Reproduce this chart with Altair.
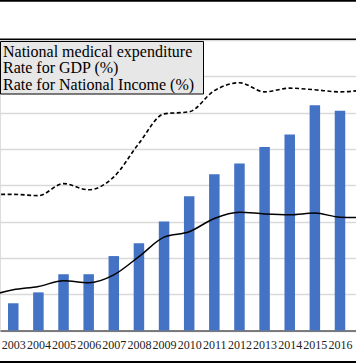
import altair as alt
import pandas as pd

# ---- data ----
years = list(range(2003, 2017))
expenditure = [31.5, 32.1, 33.1, 33.1, 34.1, 34.8, 36.0, 37.4, 38.6, 39.2, 40.1, 40.8, 42.4, 42.1]
line_years = list(range(2002, 2018))
rate_gdp = [6.13, 6.28, 6.36, 6.50, 6.45, 6.64, 7.08, 7.55, 7.68, 8.00, 8.15, 8.11, 8.09, 8.13, 8.03, 8.02]
rate_ni = [8.58, 8.58, 8.55, 8.84, 8.69, 9.00, 9.81, 10.52, 10.57, 11.08, 11.27, 11.05, 11.14, 11.10, 11.05, 11.10]
series = ["National medical expenditure", "Rate for GDP (%)", "Rate for National Income (%)"]
bar_ticks = [30, 32, 34, 36, 38, 40, 42, 44, 46]

bars_df = pd.DataFrame({"year": years, "value": expenditure})
lines_df = pd.DataFrame({"year": line_years, "gdp": rate_gdp, "ni": rate_ni})
one = pd.DataFrame({"a": [0]})

FONT = "Liberation Serif"
x_scale = alt.Scale(domain=[2002.671, 2016.438], nice=False, zero=False)
x_axis = alt.Axis(values=years, format="d", title=None, grid=False,
                  ticks=False, labelFont=FONT, labelFontSize=12,
                  labelColor="#222222", labelPadding=9,
                  domainColor="#595959", domainWidth=1.5,
                  labelOverlap=False, labelFlush=False)

bars = alt.Chart(bars_df).mark_bar(color="#4472C4", size=10.5).encode(
    x=alt.X("year:Q", scale=x_scale, axis=x_axis),
    y=alt.Y("value:Q", scale=alt.Scale(domain=[30, 46], nice=False, zero=False),
            axis=alt.Axis(values=bar_ticks, labels=False, ticks=False, domain=False,
                          title=None, grid=True, gridColor="#d9d9d9", gridWidth=1.3)),
    y2=alt.datum(30),
)

rate_scale = alt.Scale(domain=[5.3, 12.3], nice=False, zero=False)
line_gdp = alt.Chart(lines_df).mark_line(color="black", strokeWidth=1.5,
                                         interpolate="monotone", clip=True).encode(
    x=alt.X("year:Q", scale=x_scale, axis=x_axis),
    y=alt.Y("gdp:Q", scale=rate_scale, axis=None),
)
line_ni = alt.Chart(lines_df).mark_line(color="black", strokeWidth=1.6, strokeDash=[4, 2.5],
                                        interpolate="monotone", clip=True).encode(
    x=alt.X("year:Q", scale=x_scale, axis=x_axis),
    y=alt.Y("ni:Q", scale=rate_scale, axis=None),
)

# legend box (symbols are cropped off in the reference)
legend_box = alt.Chart(one).mark_rect(fill="#e7e7e7", stroke="black", strokeWidth=1).encode(
    x=alt.value(0.5), x2=alt.value(203.5), y=alt.value(1.5), y2=alt.value(54),
)
legend_texts = []
for i, name in enumerate(series):
    legend_texts.append(
        alt.Chart(one).mark_text(text=name, font=FONT, fontSize=16, color="black",
                                 align="left", baseline="alphabetic").encode(
            x=alt.value(3), y=alt.value(16.9 + 16.5 * i))
    )

# frame lines of the cropped picture
top_rule = alt.Chart(one).mark_rule(color="black", strokeWidth=2).encode(
    x=alt.value(0), x2=alt.value(356), y=alt.value(-39.2))
mid_rule = alt.Chart(one).mark_rule(color="black", strokeWidth=1.5).encode(
    x=alt.value(0), x2=alt.value(356), y=alt.value(-0.7))
bottom_rule = alt.Chart(one).mark_rule(color="black", strokeWidth=2).encode(
    x=alt.value(0), x2=alt.value(356), y=alt.value(322))

chart = alt.layer(
    bars, line_gdp, line_ni, top_rule, mid_rule, bottom_rule, legend_box, *legend_texts
).resolve_scale(y="independent").properties(
    width=356, height=290.5,
    autosize=alt.AutoSizeParams(type="none"),
    padding={"left": 0, "top": 40, "right": 0, "bottom": 33.5},
).configure_view(stroke=None).configure_axisX(labelOverlap=False).configure(background="white")

chart.save("out.html", embed_options={"renderer": "svg", "actions": False})
